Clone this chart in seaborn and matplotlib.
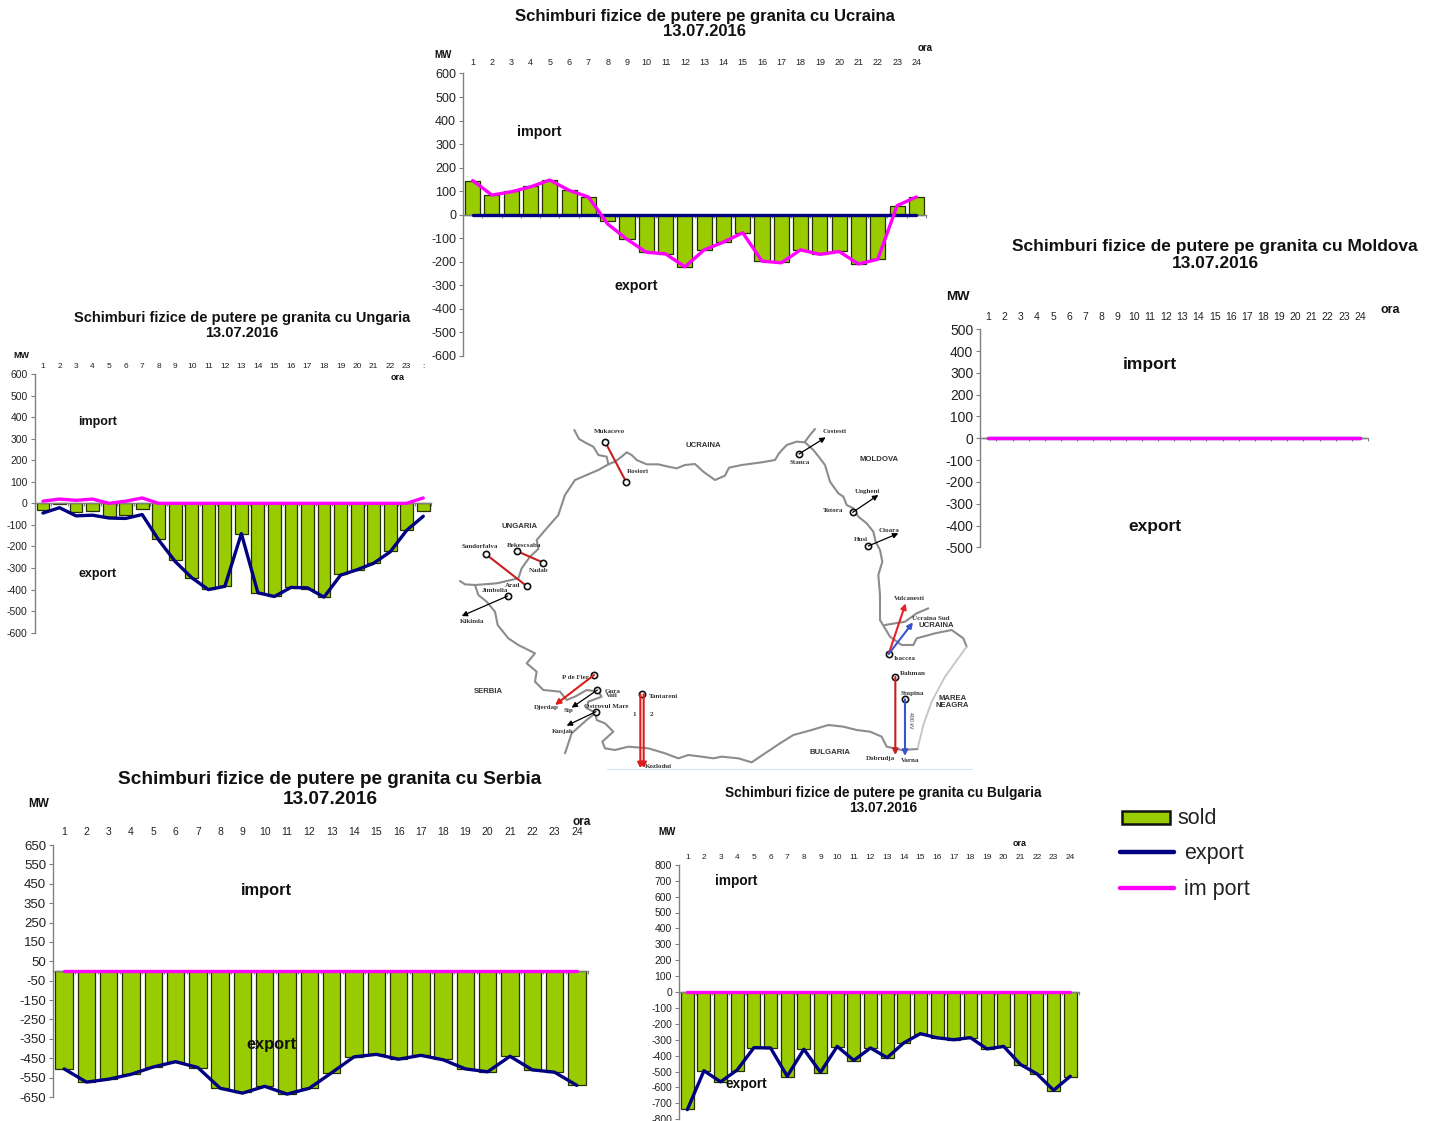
import numpy as np
import matplotlib
matplotlib.use("Agg")
import matplotlib.pyplot as plt
from matplotlib.patches import Rectangle
import seaborn as sns

hours = list(range(1, 25))
date_label = "13.07.2016"

# values, MW per hour
ucraina_sold = [145, 83, 100, 122, 147, 103, 75, -28, -103, -160, -167, -222,
                -150, -117, -77, -198, -203, -150, -167, -155, -208, -190, 38, 75]
ucraina_export = [0] * 24
ucraina_import = [145, 83, 97, 118, 147, 103, 75, -40, -105, -160, -167, -222,
                  -150, -117, -77, -198, -205, -150, -169, -157, -210, -190, 38, 75]

ungaria_sold = [-33, -2, -42, -35, -65, -55, -25, -165, -265, -347, -395, -385,
                -140, -415, -430, -390, -395, -435, -330, -308, -278, -222, -125, -35]
ungaria_export = [-45, -20, -58, -55, -68, -70, -52, -170, -270, -345, -400, -385,
                  -140, -415, -432, -390, -392, -435, -333, -308, -278, -225, -125, -60]
ungaria_import = [10, 20, 14, 20, 0, 10, 25, 0, 0, 0, 0, 0,
                  0, 0, 0, 0, 0, 0, 0, 0, 0, 0, 0, 25]

moldova_sold = [0] * 24
moldova_export = [0] * 24
moldova_import = [0] * 24

serbia_sold = [-505, -575, -555, -530, -497, -470, -500, -605, -625, -595, -635, -605,
               -525, -445, -430, -455, -435, -455, -505, -520, -440, -510, -520, -590]
serbia_export = [-505, -573, -558, -533, -495, -468, -498, -605, -630, -595, -635, -605,
                 -525, -443, -430, -455, -435, -458, -505, -520, -440, -510, -522, -590]
serbia_import = [0] * 24

bulgaria_sold = [-738, -497, -568, -495, -350, -355, -532, -360, -507, -345, -432, -355,
                 -417, -323, -265, -291, -302, -287, -360, -344, -459, -515, -620, -532]
bulgaria_export = [-740, -495, -565, -490, -350, -352, -530, -360, -505, -342, -430, -352,
                   -413, -320, -262, -288, -300, -287, -358, -342, -455, -515, -618, -530]
bulgaria_import = [0] * 24

# map of the borders, in the map's own drawing units
border_stub_x = [358, 372, 395, 415, 430, 455, 460]
border_stub_y = [15, 42, 55, 65, 90, 95, 118]
border_north_x = [395, 430, 460, 480, 500, 515, 530, 545, 575, 610, 640, 665, 690, 720, 745, 780, 810, 822,
                  860, 920, 960, 972, 995, 1025, 1050, 1075, 1095, 1110, 1125, 1150, 1165, 1175, 1195, 1210,
                  1235, 1255, 1262, 1275, 1282, 1270, 1275, 1275, 1290, 1305, 1340, 1375, 1385, 1440, 1490,
                  1525, 1535]
border_north_y = [150, 135, 118, 110, 95, 82, 90, 105, 118, 118, 125, 130, 120, 117, 140, 165, 152, 128,
                  120, 112, 105, 85, 60, 50, 52, 75, 100, 120, 170, 205, 215, 240, 250, 275,
                  295, 320, 350, 375, 410, 450, 510, 585, 610, 635, 660, 660, 640, 625, 615,
                  640, 665]
border_top_x = [1050, 1065, 1080]
border_top_y = [50, 30, 12]
border_ukr_x = [1290, 1350, 1385, 1420]
border_ukr_y = [600, 590, 565, 550]
coast_x = [1535, 1470, 1430, 1405, 1388]
coast_y = [665, 755, 830, 900, 970]
border_south_x = [1388, 1340, 1295, 1280, 1245, 1205, 1165, 1120, 1070, 1015, 975, 930, 890, 850, 800, 775,
                  740, 700, 670, 630, 580, 520, 480, 450, 442, 475, 450, 425, 420]
border_south_y = [972, 975, 965, 935, 920, 915, 905, 900, 915, 930, 955, 985, 1012, 1000, 995, 1000,
                  995, 990, 1000, 985, 970, 965, 975, 970, 950, 920, 895, 885, 860]
border_west_x = [15, 30, 60, 70, 95, 120, 128, 160, 190, 240, 215, 245, 240, 265, 315, 335, 360, 395, 430, 440, 400, 395, 420]
border_west_y = [468, 478, 480, 510, 530, 560, 600, 640, 660, 685, 715, 740, 770, 795, 800, 825, 815, 795, 800, 815, 830, 850, 862]
border_hu_x = [60, 125, 190, 200, 225, 250, 245, 275, 310, 330, 360, 395]
border_hu_y = [480, 475, 460, 430, 395, 372, 345, 310, 270, 210, 165, 150]
border_bg_x = [420, 395, 350, 330]
border_bg_y = [865, 885, 925, 985]

# links between stations: from x, from y, to x, to y, colour, arrow head or not
links = [
    (450, 50, 513, 170, "#c81e1e", False),
    (185, 378, 265, 413, "#c81e1e", False),
    (93, 388, 216, 484, "#c81e1e", False),
    (417, 750, 300, 840, "#d91e1e", True),
    (1301, 687, 1352, 535, "#e8202a", True),
    (1301, 687, 1374, 592, "#3a55cc", True),
    (556, 808, 556, 1030, "#d91e1e", True),
    (566, 808, 566, 1030, "#d91e1e", True),
    (1321, 756, 1321, 990, "#c81e1e", True),
    (1350, 823, 1350, 993, "#3a55cc", True),
    (1032, 87, 1112, 37, "black", True),
    (1193, 262, 1270, 210, "black", True),
    (1240, 363, 1330, 325, "black", True),
    (158, 513, 20, 573, "black", True),
    (427, 795, 350, 848, "black", True),
    (423, 860, 335, 902, "black", True),
]
station_x = [450, 513, 185, 265, 93, 216, 417, 1301, 561, 1321, 1350, 1032, 1193, 1240, 158, 427, 423]
station_y = [50, 170, 378, 413, 388, 484, 750, 687, 808, 756, 823, 87, 262, 363, 513, 795, 860]

country_labels = [
    ("UCRAINA", 745, 62), ("MOLDOVA", 1273, 102), ("UNGARIA", 193, 304),
    ("SERBIA", 100, 799), ("BULGARIA", 1125, 982), ("UCRAINA", 1445, 601),
    ("MAREA\nNEAGRA", 1492, 832),
]
station_labels = [
    ("Mukacevo", 463, 20), ("Rosiori", 550, 140), ("Costesti", 1140, 20),
    ("Stanca", 1035, 112), ("Ungheni", 1238, 198), ("Tutora", 1133, 257),
    ("Cioara", 1303, 316), ("Husi", 1217, 343), ("Sandorfalva", 73, 365),
    ("Bekescsaba", 207, 360), ("Nadab", 250, 438), ("Arad", 173, 481),
    ("Jimbolia", 120, 497), ("Kikinda", 50, 590), ("Vulcanesti", 1363, 522),
    ("Ucraina Sud", 1428, 582), ("Isaccea", 1350, 700), ("Rahman", 1373, 746),
    ("Stupina", 1372, 805), ("Dobrudja", 1277, 1001), ("Varna", 1365, 1006),
    ("Kozlodui", 610, 1025), ("Tantareni", 627, 813), ("1", 537, 870),
    ("2", 590, 870), ("P de Fier", 360, 757), ("Gura\nVaii", 472, 805),
    ("Sip", 340, 857), ("Ostrovul Mare", 455, 843), ("Djerdap", 273, 847),
    ("Kusjak", 322, 918),
]

SOLD_COLOR = "#99CC00"
BAR_EDGE = "#263000"
EXPORT_COLOR = "#000080"
IMPORT_COLOR = "#FF00FF"
AXIS_COLOR = "#808080"
TEXT_COLOR = "#222222"
BORDER_COLOR = "#8c8c8c"

FIG_W, FIG_H = 1435, 1121

# box is left, right, top, bottom in pixels of the final picture
panels = [
    dict(country="Ucraina", sold=ucraina_sold, export=ucraina_export, imp=ucraina_import,
         box=(463, 926, 73.5, 355.7), ymax=600, ticks=np.arange(-600, 601, 100),
         tick_fs=9, hour_fs=6.5, hour_pad=4.5,
         title_x=705, title_y=(16, 32), title_fs=12,
         mw=(443, 55, 7), ora=(925, 48, 7),
         imp_label=(539, 132), exp_label=(636, 286), label_fs=10.3),
    dict(country="Ungaria", sold=ungaria_sold, export=ungaria_export, imp=ungaria_import,
         box=(34.7, 431.5, 374, 632.7), ymax=600, ticks=np.arange(-600, 601, 100),
         tick_fs=7.5, hour_fs=6, hour_pad=3,
         title_x=242, title_y=(318, 333), title_fs=10.5,
         mw=(21, 355, 6.5), ora=(398, 378, 6.5),
         imp_label=(98, 422), exp_label=(98, 574), label_fs=9),
    dict(country="Moldova", sold=moldova_sold, export=moldova_export, imp=moldova_import,
         box=(980.3, 1368, 329.3, 547.3), ymax=500, ticks=np.arange(-500, 501, 100),
         tick_fs=10, hour_fs=7.5, hour_pad=5.5,
         title_x=1215, title_y=(246, 264), title_fs=12.5,
         mw=(958, 297, 9.5), ora=(1390, 310, 9),
         imp_label=(1150, 364), exp_label=(1155, 526), label_fs=12.5),
    dict(country="Serbia", sold=serbia_sold, export=serbia_export, imp=serbia_import,
         box=(53, 588, 845, 1097), ymax=650, ticks=np.arange(-650, 651, 100),
         tick_fs=9.5, hour_fs=7.5, hour_pad=6,
         title_x=330, title_y=(780, 799), title_fs=13.7,
         mw=(39, 804, 8.5), ora=(582, 822, 8.5),
         imp_label=(266, 890), exp_label=(271, 1045), label_fs=11.8),
    dict(country="Bulgaria", sold=bulgaria_sold, export=bulgaria_export, imp=bulgaria_import,
         box=(679, 1078.6, 864.8, 1119.2), ymax=800, ticks=np.arange(-800, 801, 100),
         tick_fs=7.5, hour_fs=6, hour_pad=3,
         title_x=883, title_y=(793, 808), title_fs=9.8,
         mw=(667, 832, 7), ora=(1020, 843, 6.5),
         imp_label=(736, 881), exp_label=(746, 1084), label_fs=9.8),
]


def axes_from_box(fig, box):
    left, right, top, bottom = box
    return fig.add_axes([left / FIG_W, 1 - bottom / FIG_H,
                         (right - left) / FIG_W, (bottom - top) / FIG_H])


def plot_panel(fig, overlay, p):
    ax = axes_from_box(fig, p["box"])
    ax.patch.set_alpha(0)

    sns.barplot(x=hours, y=p["sold"], native_scale=True, color=SOLD_COLOR, saturation=1,
                width=0.78, edgecolor=BAR_EDGE, linewidth=0.9, ax=ax)
    sns.lineplot(x=hours, y=p["export"], color=EXPORT_COLOR, linewidth=2.4,
                 estimator=None, sort=False, zorder=4, ax=ax)
    sns.lineplot(x=hours, y=p["imp"], color=IMPORT_COLOR, linewidth=2.4,
                 estimator=None, sort=False, zorder=5, ax=ax)

    ax.set_xlim(0.5, 24.5)
    ax.set_ylim(-p["ymax"], p["ymax"])
    ax.set_yticks(p["ticks"])
    ax.set_xticks(hours)
    hour_labels = [str(h) for h in hours]
    if p["country"] == "Ungaria":
        hour_labels[-1] = ":"  # cut off in the original
    ax.set_xticklabels(hour_labels)
    ax.set_xticks(np.arange(0.5, 25), minor=True)

    ax.spines["top"].set_visible(False)
    ax.spines["right"].set_visible(False)
    ax.spines["bottom"].set_position(("data", 0))
    for side in ["left", "bottom"]:
        ax.spines[side].set_color(AXIS_COLOR)
        ax.spines[side].set_linewidth(1.0)

    ax.tick_params(axis="x", which="major", length=0, labeltop=True, labelbottom=False,
                   bottom=False, top=False, pad=p["hour_pad"], labelsize=p["hour_fs"],
                   labelcolor=TEXT_COLOR)
    ax.tick_params(axis="x", which="minor", length=2.5, width=0.8, color=AXIS_COLOR,
                   direction="out", bottom=True, top=False)
    ax.tick_params(axis="y", length=3, width=0.8, color=AXIS_COLOR, left=True,
                   labelsize=p["tick_fs"], labelcolor=TEXT_COLOR, pad=2)

    # titles and loose labels are placed in picture pixels
    y1, y2 = p["title_y"]
    overlay.text(p["title_x"], y1, f"Schimburi fizice de putere pe granita cu {p['country']}",
                 ha="center", va="center", fontsize=p["title_fs"], fontweight="bold", color="#111111")
    overlay.text(p["title_x"], y2, date_label, ha="center", va="center",
                 fontsize=p["title_fs"], fontweight="bold", color="#111111")
    mx, my, mfs = p["mw"]
    overlay.text(mx, my, "MW", ha="center", va="center", fontsize=mfs, fontweight="bold", color="#111111")
    ox, oy, ofs = p["ora"]
    overlay.text(ox, oy, "ora", ha="center", va="center", fontsize=ofs, fontweight="bold", color="#111111")
    overlay.text(*p["imp_label"], "import", ha="center", va="center",
                 fontsize=p["label_fs"], fontweight="bold", color="#111111")
    overlay.text(*p["exp_label"], "export", ha="center", va="center",
                 fontsize=p["label_fs"], fontweight="bold", color="#111111")


def draw_map(fig):
    ax = axes_from_box(fig, (455, 975, 425, 770))
    ax.set_xlim(0, 1560)
    ax.set_ylim(1035, 0)
    ax.axis("off")

    borders = [(border_north_x, border_north_y), (border_stub_x, border_stub_y),
               (border_top_x, border_top_y), (border_ukr_x, border_ukr_y),
               (border_south_x, border_south_y), (border_west_x, border_west_y),
               (border_hu_x, border_hu_y), (border_bg_x, border_bg_y)]
    for bx, by in borders:
        ax.plot(bx, by, color=BORDER_COLOR, linewidth=1.5)
    ax.plot(coast_x, coast_y, color="#c4c4c4", linewidth=1.3)
    ax.plot([456, 1551], [1033, 1033], color="#d5e3ee", linewidth=0.8)

    for x0, y0, x1, y1, col, has_head in links:
        width = 0.9 if col == "black" else 1.5
        if has_head:
            ax.annotate("", xy=(x1, y1), xytext=(x0, y0),
                        arrowprops=dict(arrowstyle="-|>", color=col, lw=width,
                                        mutation_scale=8, shrinkA=0, shrinkB=0))
        else:
            ax.plot([x0, x1], [y0, y1], color=col, linewidth=width)
    ax.plot(station_x, station_y, linestyle="none", marker="o", markersize=4.5,
            markerfacecolor="white", markeredgecolor="#111111", markeredgewidth=1.2)

    for label, x, y in country_labels:
        ax.text(x, y, label, ha="center", va="center", fontsize=5.6, color="#333333",
                fontweight="bold", linespacing=1.0)
    for label, x, y in station_labels:
        ax.text(x, y, label, ha="center", va="center", fontsize=5, color="#333333",
                fontweight="bold", family="Liberation Serif", linespacing=0.9)
    ax.text(1367, 885, "400 kV", ha="center", va="center", rotation=270, fontsize=3.8, color="#333333")


def draw_legend(overlay):
    overlay.add_patch(Rectangle((1122, 811), 48, 13, facecolor=SOLD_COLOR,
                                edgecolor="#111111", linewidth=1.8))
    overlay.plot([1120, 1174], [852, 852], color=EXPORT_COLOR, linewidth=3.2, solid_capstyle="round")
    overlay.plot([1120, 1174], [888, 888], color=IMPORT_COLOR, linewidth=3.2, solid_capstyle="round")
    overlay.text(1177, 819, "sold", va="center", fontsize=15.5, color="#222222")
    overlay.text(1184, 854, "export", va="center", fontsize=15.5, color="#222222")
    overlay.text(1184, 890, "im port", va="center", fontsize=15.5, color="#222222")


def main():
    sns.set_style("white")
    plt.rcParams["font.family"] = ["Liberation Sans", "DejaVu Sans"]
    plt.rcParams["axes.unicode_minus"] = False

    fig = plt.figure(figsize=(FIG_W / 100, FIG_H / 100), dpi=100)

    overlay = fig.add_axes([0, 0, 1, 1], zorder=5)
    overlay.set_xlim(0, FIG_W)
    overlay.set_ylim(FIG_H, 0)
    overlay.axis("off")

    for p in panels:
        plot_panel(fig, overlay, p)
    draw_map(fig)
    draw_legend(overlay)

    fig.savefig("out.png", dpi=100)


if __name__ == "__main__":
    main()
